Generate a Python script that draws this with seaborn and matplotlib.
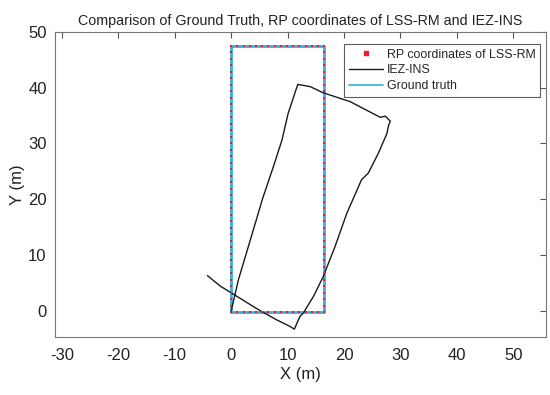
import numpy as np
import pandas as pd
import matplotlib
matplotlib.use("Agg")
import matplotlib.pyplot as plt
import seaborn as sns

# ---- data ----
gt_x = [0.0, 0.0, 16.5, 16.5, 0.0]
gt_y = [-0.3, 47.5, 47.5, -0.3, -0.3]

rp_row_x = [0.0, 1.1, 2.2, 3.3, 4.4, 5.5, 6.6, 7.7, 8.8, 9.9, 11.0, 12.1, 13.2, 14.3, 15.4, 16.5]
rp_col_y = [-0.3, 0.87, 2.03, 3.2, 4.36, 5.53, 6.7, 7.86, 9.03, 10.19, 11.36, 12.53, 13.69,
            14.86, 16.02, 17.19, 18.36, 19.52, 20.69, 21.85, 23.02, 24.19, 25.35, 26.52,
            27.68, 28.85, 30.02, 31.18, 32.35, 33.51, 34.68, 35.85, 37.01, 38.18, 39.34,
            40.51, 41.68, 42.84, 44.01, 45.17, 46.34, 47.5]
rp_bottom_y = -0.3
rp_top_y = 47.5
rp_left_x = 0.0
rp_right_x = 16.5

ins_x = [-4.2, -1.9, 1.0, 4.5, 8.0, 10.4, 11.2, 12.2, 12.8, 14.6, 16.3, 18.4, 20.5, 23.1,
         24.3, 26.1, 27.6, 27.9, 28.2, 27.3, 26.4, 21.1, 16.3, 14.0, 11.8, 10.1, 9.0, 7.5,
         5.6, 3.4, 1.3, 0.0]
ins_y = [6.3, 4.4, 2.6, 0.4, -1.6, -2.8, -3.3, -1.0, -0.4, 2.6, 6.1, 11.5, 17.5, 23.5,
         24.7, 28.3, 31.8, 33.3, 34.0, 34.9, 34.7, 37.5, 39.1, 40.2, 40.6, 35.4, 30.6, 25.9,
         20.2, 12.7, 5.6, -0.1]

x_ticks = [-30, -20, -10, 0, 10, 20, 30, 40, 50]
y_ticks = [0, 10, 20, 30, 40, 50]

# ---- build tables ----
rp_x = list(rp_row_x) + list(rp_row_x) + [rp_left_x] * len(rp_col_y) + [rp_right_x] * len(rp_col_y)
rp_y = [rp_bottom_y] * len(rp_row_x) + [rp_top_y] * len(rp_row_x) + list(rp_col_y) + list(rp_col_y)
rp_df = pd.DataFrame({"x": rp_x, "y": rp_y})
ins_df = pd.DataFrame({"x": ins_x, "y": ins_y})
gt_df = pd.DataFrame({"x": gt_x, "y": gt_y})

sns.set_style("white")
plt.rcParams['font.family'] = ['Liberation Sans', 'DejaVu Sans']

fig = plt.figure(figsize=(5.5, 3.95), dpi=100)
ax = fig.add_axes([0.1, 0.147, 0.893, 0.772])

gt_color = "#35ade0"
sns.lineplot(data=gt_df, x="x", y="y", sort=False, estimator=None, ax=ax,
             color=gt_color, linewidth=2.0, zorder=2)
sns.lineplot(data=ins_df, x="x", y="y", sort=False, estimator=None, ax=ax,
             color="#1a1a1a", linewidth=1.0, zorder=3)
ax.scatter(rp_df["x"], rp_df["y"], s=4.5, marker="s", color="#ee1c2e", linewidths=0, zorder=4)

from matplotlib.lines import Line2D
handles = [
    Line2D([], [], linestyle="none", marker="s", markersize=2.4, color="#ee1c2e"),
    Line2D([], [], color="#1a1a1a", linewidth=1.0),
    Line2D([], [], color=gt_color, linewidth=1.2),
]
labels = ["RP coordinates of LSS-RM", "IEZ-INS", "Ground truth"]
leg = ax.legend(handles, labels, loc="upper right", bbox_to_anchor=(0.993, 0.97),
                fontsize=8.9, frameon=True, fancybox=False, borderpad=0.4,
                handlelength=2.8, handletextpad=0.25, labelspacing=0.3, borderaxespad=0.2)
leg.get_frame().set_edgecolor("#333333")
leg.get_frame().set_linewidth(0.8)

ax.set_xlim(-31.2, 55.8)
ax.set_ylim(-4.7, 50)
ax.set_xticks(x_ticks)
ax.set_yticks(y_ticks)
ax.set_xticklabels([str(t) for t in x_ticks])
ax.set_yticklabels([str(t) for t in y_ticks])
ax.tick_params(direction="in", length=4, width=0.8, colors="#555555", labelsize=12,
               top=True, right=True, labelcolor="#222222")
ax.tick_params(axis="x", pad=8)
ax.tick_params(axis="y", pad=6)
for s in ax.spines.values():
    s.set_color("#777777")
    s.set_linewidth(0.8)

ax.set_xlabel("X (m)", fontsize=12, color="#222222", labelpad=3)
ax.set_ylabel("Y (m)", fontsize=12, color="#222222", labelpad=2)
ax.set_title("Comparison of Ground Truth, RP coordinates of LSS-RM and IEZ-INS",
             fontsize=10.3, color="#222222", pad=5)

fig.savefig("out.png", dpi=100)
